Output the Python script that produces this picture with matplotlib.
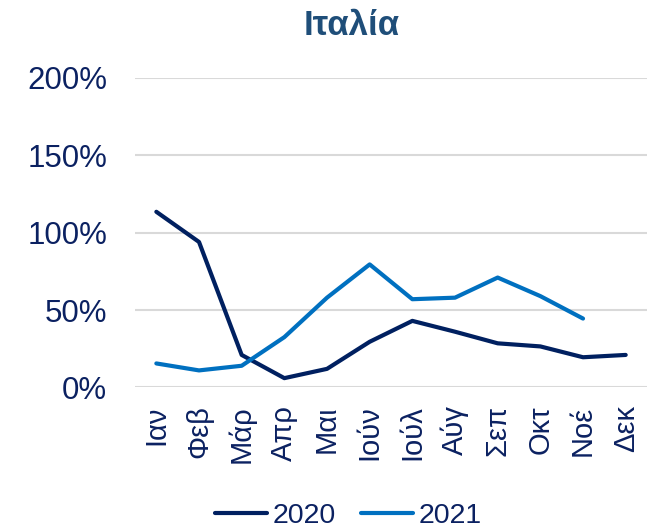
import matplotlib
matplotlib.use("Agg")
import matplotlib.pyplot as plt
from matplotlib.ticker import FuncFormatter

plt.rcParams['font.family'] = ['Liberation Sans', 'DejaVu Sans']

# data (% change)
months = ["Ιαν", "Φεβ", "Μάρ", "Απρ", "Μαι", "Ιούν", "Ιούλ", "Αύγ", "Σεπ", "Οκτ", "Νοέ", "Δεκ"]
vals_2020 = [113.5, 94, 21, 6, 12, 29.5, 43, 36, 28.5, 26.5, 19.5, 21]
vals_2021 = [15.5, 11, 14, 32.5, 58, 79.5, 57, 58, 71, 59, 44.5]

navy = "#002060"
blue = "#0070C0"
text_col = "#0B2161"

fig = plt.figure(figsize=(6.7, 5.3), dpi=100)
ax = fig.add_axes([0.2015, 0.269, 0.7642, 0.584])

ax.plot(range(len(vals_2020)), vals_2020, color=navy, lw=3, label="2020", solid_capstyle="round")
ax.plot(range(len(vals_2021)), vals_2021, color=blue, lw=3, label="2021", solid_capstyle="round")

ax.set_xlim(-0.5, 11.5)
ax.set_ylim(0, 200)
ax.set_yticks([0, 50, 100, 150, 200])
ax.yaxis.set_major_formatter(FuncFormatter(lambda v, p: f"{v:.0f}%"))
ax.set_xticks(range(len(months)))
ax.set_xticklabels(months, rotation=90)

ax.grid(axis="y", color="#D9D9D9", lw=1.5)
ax.set_axisbelow(True)
for s in ax.spines.values():
    s.set_visible(False)
ax.tick_params(axis="y", length=0, pad=20, labelsize=22.5, labelcolor=text_col)
ax.tick_params(axis="x", length=0, pad=13, labelsize=21, labelcolor=text_col)

fig.text(0.525, 0.951, "Ιταλία", ha="center", va="center", fontsize=25,
         fontweight="bold", color="#1F4E79")

fig.legend(loc="center", bbox_to_anchor=(0.52, 0.026), ncol=2, frameon=False,
           fontsize=20.5, labelcolor=text_col, handlelength=1.8, handletextpad=0.2,
           columnspacing=0.9)

fig.savefig("out.png", dpi=100)
